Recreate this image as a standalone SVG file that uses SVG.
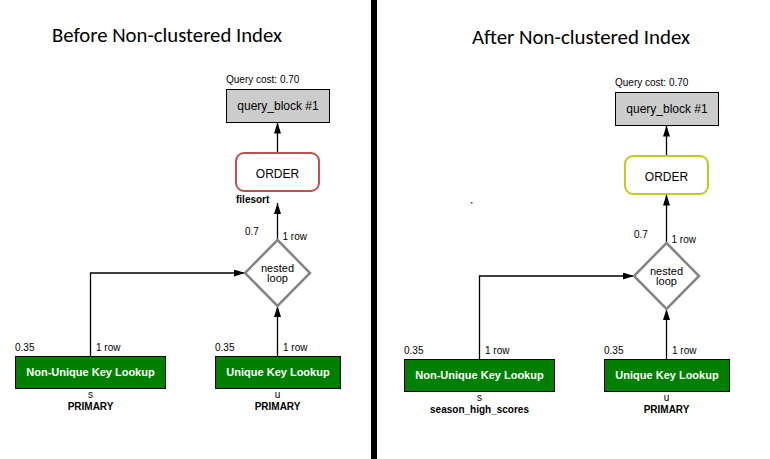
<svg xmlns="http://www.w3.org/2000/svg" width="770" height="459" viewBox="0 0 770 459">
<style>
text{font-family:"Liberation Sans",Arial,sans-serif;fill:#000}
.title{font-family:Carlito,Calibri,Lato,sans-serif;font-size:20.5px;text-anchor:middle}
.s10{font-size:10px}
.b10{font-size:10px;font-weight:bold}
.c{text-anchor:middle}
.qb{fill:#cccccc;stroke:#000;stroke-width:1}
.ord{fill:#fff;stroke-width:2}
.dia{fill:#fff;stroke:#858585;stroke-width:2.5}
.green{fill:#007f00;stroke:#000;stroke-width:1}
.wt{fill:#fff;font-weight:bold;font-size:11px;text-anchor:middle}
.conn{fill:none;stroke:#000;stroke-width:1.3;marker-end:url(#ah)}
</style>
<defs>
<marker id="ah" markerUnits="userSpaceOnUse" markerWidth="12" markerHeight="8" refX="11" refY="3.5" orient="auto">
<path d="M0,0 L11,3.5 L0,7 z" fill="#000"/>
</marker>
</defs>
<rect width="770" height="459" fill="#fff"/>
<rect id="divider" x="371" y="0" width="6" height="459" fill="#000"/>
<text class="title" x="167" y="42" textLength="230" lengthAdjust="spacingAndGlyphs">Before Non-clustered Index</text>
<text class="title" x="581" y="43.5" textLength="218" lengthAdjust="spacingAndGlyphs">After Non-clustered Index</text>
<rect id="dot" x="471" y="202" width="1.5" height="1.5" fill="#2020ff"/>

<g id="connectors">
<line class="conn" x1="277.5" y1="153" x2="277.5" y2="122.5"/>
<line class="conn" x1="277.5" y1="240" x2="277.5" y2="203"/>
<path class="conn" d="M90.5 356 V273 H245"/>
<line class="conn" x1="277.5" y1="356" x2="277.5" y2="306"/>
<line class="conn" x1="666.5" y1="156" x2="666.5" y2="125.5"/>
<line class="conn" x1="666.5" y1="243" x2="666.5" y2="194.5"/>
<path class="conn" d="M479.5 359 V276 H634"/>
<line class="conn" x1="666.5" y1="359" x2="666.5" y2="309"/>
</g>

<g id="L-qb">
<text class="s10" x="226" y="83">Query cost: 0.70</text>
<rect class="qb" x="226.5" y="89.5" width="103" height="33"/>
<text class="c" x="278" y="110" font-size="12">query_block #1</text>
</g>
<g id="L-order">
<rect class="ord" x="236" y="153" width="83" height="38" rx="8" stroke="#c0504d"/>
<text class="c" x="277.5" y="177.5" font-size="12">ORDER</text>
<text class="b10" x="236" y="203">filesort</text>
</g>
<g id="L-nl">
<polygon class="dia" points="277.5,240 310,273 277.5,306 245,273"/>
<text class="c" x="277.5" y="271.5" font-size="11">nested</text>
<text class="c" x="277.5" y="282" font-size="11">loop</text>
<text class="s10" x="245" y="235">0.7</text>
<text class="s10" x="282.5" y="239.5">1 row</text>
</g>
<g id="L-s">
<text class="s10" x="15" y="350.5">0.35</text>
<text class="s10" x="96" y="350.5">1 row</text>
<rect class="green" x="15.5" y="356.5" width="150" height="32"/>
<text class="wt" x="90.5" y="376">Non-Unique Key Lookup</text>
<text class="s10 c" x="90.5" y="398">s</text>
<text class="b10 c" x="90.5" y="409.5">PRIMARY</text>
</g>
<g id="L-u">
<text class="s10" x="215" y="350.5">0.35</text>
<text class="s10" x="283" y="350.5">1 row</text>
<rect class="green" x="215.5" y="356.5" width="125" height="32"/>
<text class="wt" x="278" y="376">Unique Key Lookup</text>
<text class="s10 c" x="277.5" y="398">u</text>
<text class="b10 c" x="277.5" y="409.5">PRIMARY</text>
</g>

<g id="R-qb">
<text class="s10" x="615" y="86">Query cost: 0.70</text>
<rect class="qb" x="615.5" y="92.5" width="103" height="33"/>
<text class="c" x="667" y="113" font-size="12">query_block #1</text>
</g>
<g id="R-order">
<rect class="ord" x="625" y="156" width="83" height="38" rx="8" stroke="#c8c81a"/>
<text class="c" x="666.5" y="180.5" font-size="12">ORDER</text>
</g>
<g id="R-nl">
<polygon class="dia" points="666.5,243 699,276 666.5,309 634,276"/>
<text class="c" x="666.5" y="274.5" font-size="11">nested</text>
<text class="c" x="666.5" y="285" font-size="11">loop</text>
<text class="s10" x="634" y="238">0.7</text>
<text class="s10" x="671.5" y="242.5">1 row</text>
</g>
<g id="R-s">
<text class="s10" x="404" y="353.5">0.35</text>
<text class="s10" x="485" y="353.5">1 row</text>
<rect class="green" x="404.5" y="359.5" width="150" height="32"/>
<text class="wt" x="479.5" y="379">Non-Unique Key Lookup</text>
<text class="s10 c" x="479.5" y="401">s</text>
<text class="b10 c" x="479.5" y="412.5">season_high_scores</text>
</g>
<g id="R-u">
<text class="s10" x="604" y="353.5">0.35</text>
<text class="s10" x="672" y="353.5">1 row</text>
<rect class="green" x="604.5" y="359.5" width="125" height="32"/>
<text class="wt" x="667" y="379">Unique Key Lookup</text>
<text class="s10 c" x="666.5" y="401">u</text>
<text class="b10 c" x="666.5" y="412.5">PRIMARY</text>
</g>
</svg>
